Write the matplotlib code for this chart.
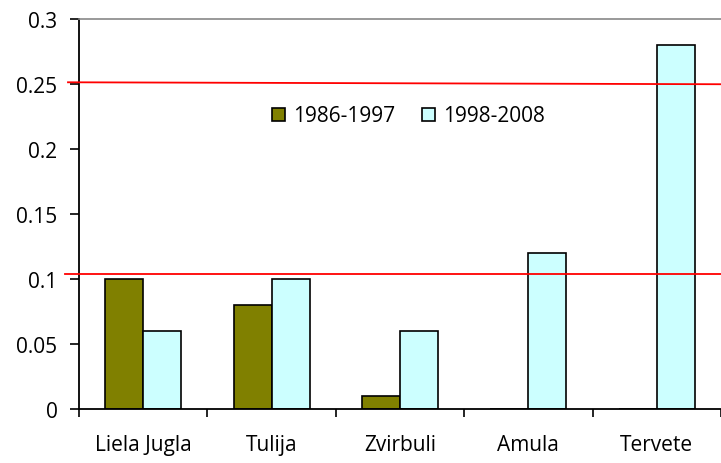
import matplotlib
matplotlib.use("Agg")
import matplotlib.pyplot as plt
import numpy as np

categories = ["Liela Jugla", "Tulija", "Zvirbuli", "Amula", "Tervete"]
series_names = ["1986-1997", "1998-2008"]
values_1986_1997 = [0.10, 0.08, 0.01, 0.0, 0.0]
values_1998_2008 = [0.06, 0.10, 0.06, 0.12, 0.28]
ref_upper = (0.251, 0.2495)
ref_lower = (0.104, 0.104)
yticks = [0, 0.05, 0.1, 0.15, 0.2, 0.25, 0.3]
ytick_labels = ["0", "0.05", "0.1", "0.15", "0.2", "0.25", "0.3"]

plt.rcParams['font.family'] = ['Open Sans', 'DejaVu Sans']

fig = plt.figure(figsize=(7.21, 4.64), dpi=100)
ax = fig.add_axes([79/721, 54/464, 642/721, 390.5/464])

x = np.arange(len(categories))
w = 0.296
ax.bar(x - w/2, values_1986_1997, w, color="#808000", edgecolor="black", linewidth=1.2, label=series_names[0], zorder=2)
ax.bar(x + w/2, values_1998_2008, w, color="#CCFFFF", edgecolor="black", linewidth=1.2, label=series_names[1], zorder=2)

ax.set_xlim(-0.5, len(categories) - 0.5)
ax.set_ylim(0, 0.3)

ax.set_yticks(yticks)
ax.set_yticklabels(ytick_labels)
ax.tick_params(axis='y', length=6.5, width=1.2, direction='out', labelsize=15, pad=9)

ax.set_xticks(x)
ax.set_xticklabels(categories)
ax.set_xticks(np.arange(-0.5, len(categories), 1.0), minor=True)
ax.tick_params(axis='x', which='major', length=0, labelsize=15, pad=18)
ax.tick_params(axis='x', which='minor', length=6, width=1.2, direction='out')

ax.spines['left'].set_linewidth(1.3)
ax.spines['bottom'].set_linewidth(1.3)
ax.spines['top'].set_color("#888888")
ax.spines['top'].set_linewidth(1.2)
ax.spines['right'].set_visible(False)

trans = ax.get_yaxis_transform()
ax.plot([-11/642, 1.0], list(ref_upper), color="red", linewidth=1.3, transform=trans, clip_on=False, zorder=3)
ax.plot([-14/642, 1.0], list(ref_lower), color="red", linewidth=1.3, transform=trans, clip_on=False, zorder=3)

leg = ax.legend(loc='center', bbox_to_anchor=((408.5-79)/642, (410-117)/390.5), ncol=2, frameon=False,
                fontsize=15, handlelength=0.6, handleheight=0.6, handletextpad=0.4, columnspacing=1.3)
for h in leg.legend_handles:
    h.set_linewidth(1.2)

fig.savefig("out.png", dpi=100)
